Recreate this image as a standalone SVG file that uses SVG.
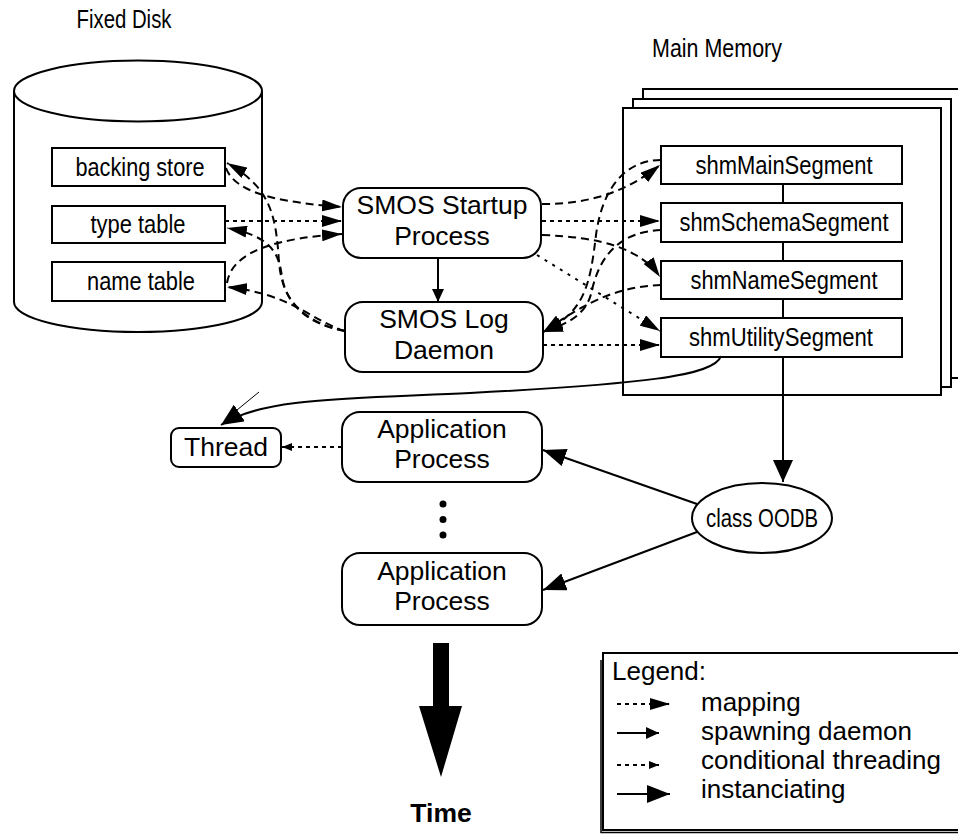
<svg xmlns="http://www.w3.org/2000/svg" width="958" height="835" viewBox="0 0 958 835">
  <style>
    .ln { fill: none; stroke: #000; stroke-width: 2; }
    .box { fill: #fff; stroke: #000; stroke-width: 2; }
    .dl { fill: none; stroke: #000; stroke-width: 2; stroke-dasharray: 8 5; }
    .ds { fill: none; stroke: #000; stroke-width: 2; stroke-dasharray: 4 4; }
    .dt { fill: none; stroke: #000; stroke-width: 2; stroke-dasharray: 3 6; }
    .t { font-family: "Liberation Sans", Arial, sans-serif; font-size: 26.5px; fill: #000; text-anchor: middle; }
    .n { font-family: "Liberation Sans Narrow", "Arial Narrow", "Liberation Sans", sans-serif; font-size: 26px; fill: #000; text-anchor: middle; }
    .lg { font-family: "Liberation Sans", Arial, sans-serif; font-size: 26px; fill: #000; }
  </style>
  <defs>
    <marker id="mapHead" markerUnits="userSpaceOnUse" markerWidth="20" markerHeight="12" refX="20" refY="6" orient="auto">
      <path d="M0,0 L20,6 L0,12 z" fill="#000"/>
    </marker>
    <marker id="bigHead" markerUnits="userSpaceOnUse" markerWidth="22" markerHeight="20" refX="22" refY="10" orient="auto">
      <path d="M0,0 L22,10 L0,20 z" fill="#000"/>
    </marker>
    <marker id="instHead" markerUnits="userSpaceOnUse" markerWidth="23" markerHeight="18" refX="23" refY="9" orient="auto">
      <path d="M0,0 L23,9 L0,18 z" fill="#000"/>
    </marker>
    <marker id="spawnHead" markerUnits="userSpaceOnUse" markerWidth="13" markerHeight="12" refX="13" refY="6" orient="auto">
      <path d="M0,0 L13,6 L0,12 z" fill="#000"/>
    </marker>
    <marker id="smallHead" markerUnits="userSpaceOnUse" markerWidth="10" markerHeight="8" refX="10" refY="4" orient="auto">
      <path d="M0,0 L10,4 L0,8 z" fill="#000"/>
    </marker>
  </defs>

  <rect width="958" height="835" fill="#fff"/>

  <!-- titles -->
  <text class="n" x="124" y="28" textLength="95" lengthAdjust="spacingAndGlyphs">Fixed Disk</text>
  <text class="n" x="717" y="57" textLength="130" lengthAdjust="spacingAndGlyphs">Main Memory</text>

  <!-- fixed disk cylinder -->
  <g id="fixed-disk">
    <path class="box" d="M14,91 L14,302 A124,30 0 0 0 262,302 L262,91"/>
    <ellipse class="box" cx="138" cy="91" rx="124" ry="30.5"/>
  </g>
  <g id="backing-store">
    <rect class="box" x="52" y="148" width="173" height="38"/>
    <text class="n" x="140" y="176" textLength="129" lengthAdjust="spacingAndGlyphs">backing store</text>
  </g>
  <g id="type-table">
    <rect class="box" x="52" y="206" width="173" height="37"/>
    <text class="n" x="138" y="233" textLength="95" lengthAdjust="spacingAndGlyphs">type table</text>
  </g>
  <g id="name-table">
    <rect class="box" x="52" y="262" width="173" height="39"/>
    <text class="n" x="141" y="290" textLength="108" lengthAdjust="spacingAndGlyphs">name table</text>
  </g>

  <!-- main memory stack -->
  <g id="main-memory">
    <rect class="box" x="643" y="89" width="330" height="289"/>
    <rect class="box" x="633" y="99" width="318" height="288"/>
    <rect class="box" x="623" y="108" width="318" height="287"/>
    <path class="ln" d="M783,184 V203 M783,242 V261 M783,299 V318"/>
  </g>
  <g id="shm-main">
    <rect class="box" x="661" y="146" width="241" height="38"/>
    <text class="n" x="784" y="174" textLength="177" lengthAdjust="spacingAndGlyphs">shmMainSegment</text>
  </g>
  <g id="shm-schema">
    <rect class="box" x="661" y="203" width="241" height="39"/>
    <text class="n" x="784" y="231" textLength="209" lengthAdjust="spacingAndGlyphs">shmSchemaSegment</text>
  </g>
  <g id="shm-name">
    <rect class="box" x="661" y="261" width="241" height="38"/>
    <text class="n" x="784" y="289" textLength="187" lengthAdjust="spacingAndGlyphs">shmNameSegment</text>
  </g>
  <g id="shm-utility">
    <rect class="box" x="661" y="318" width="241" height="39"/>
    <text class="n" x="781" y="346" textLength="184" lengthAdjust="spacingAndGlyphs">shmUtilitySegment</text>
  </g>

  <!-- processes -->
  <g id="smos-startup">
    <rect class="box" x="343" y="188" width="198" height="70" rx="18"/>
    <text class="t" x="442" y="214">SMOS Startup</text>
    <text class="t" x="442" y="245">Process</text>
  </g>
  <g id="smos-log">
    <rect class="box" x="345" y="302" width="198" height="70" rx="18"/>
    <text class="t" x="444" y="328">SMOS Log</text>
    <text class="t" x="444" y="359">Daemon</text>
  </g>
  <g id="thread">
    <rect class="box" x="171" y="428" width="110" height="39" rx="8"/>
    <text class="t" x="226" y="456">Thread</text>
  </g>
  <g id="app-1">
    <rect class="box" x="342" y="412" width="200" height="70" rx="18"/>
    <text class="t" x="442" y="438">Application</text>
    <text class="t" x="442" y="468">Process</text>
  </g>
  <g id="ellipsis">
    <circle cx="443" cy="504" r="3.5"/>
    <circle cx="443" cy="519.5" r="3.5"/>
    <circle cx="443" cy="535" r="3.5"/>
  </g>
  <g id="app-2">
    <rect class="box" x="342" y="553" width="200" height="72" rx="18"/>
    <text class="t" x="442" y="580">Application</text>
    <text class="t" x="442" y="610">Process</text>
  </g>
  <g id="class-oodb">
    <ellipse class="box" cx="762" cy="518" rx="70" ry="35"/>
    <text class="n" x="762" y="527" textLength="112" lengthAdjust="spacingAndGlyphs">class OODB</text>
  </g>

  <!-- connectors -->
  <g id="connectors">
    <!-- disk to startup (mapping) -->
    <path class="dl" d="M226,168 C236,196 290,203 342,207" marker-end="url(#mapHead)"/>
    <path class="ds" d="M225,221 L342,221" marker-end="url(#mapHead)"/>
    <path class="dl" d="M227,283 C232,250 280,238 342,234" marker-end="url(#mapHead)"/>
    <!-- log daemon back to disk -->
    <path class="dl" d="M345,331 C302,323 282,300 279,262 C276,218 272,188 227,163" marker-end="url(#mapHead)"/>
    <path class="dl" d="M345,331 C306,323 286,302 282,277 C279,252 270,236 227,228" marker-end="url(#mapHead)"/>
    <path class="dl" d="M345,331 C312,321 292,294 227,287" marker-end="url(#mapHead)"/>
    <!-- startup to segments -->
    <path class="dl" d="M542,204 C590,204 626,192 660,165" marker-end="url(#mapHead)"/>
    <path class="ds" d="M542,221 L660,221" marker-end="url(#mapHead)"/>
    <path class="dl" d="M542,235 C600,237 640,248 660,277" marker-end="url(#mapHead)"/>
    <path class="dt" d="M537,255 L660,331" marker-end="url(#mapHead)"/>
    <!-- segments to log daemon -->
    <path class="dl" d="M661,160 C624,160 602,190 596,235 C590,285 585,312 543,332" marker-end="url(#mapHead)"/>
    <path class="dl" d="M661,230 C620,232 600,255 592,290 C588,310 575,322 543,332" marker-end="url(#mapHead)"/>
    <path class="dl" d="M661,285 C620,287 592,298 543,332" marker-end="url(#mapHead)"/>
    <!-- log daemon to utility segment -->
    <path class="ds" d="M543,345 L660,345" marker-end="url(#mapHead)"/>
    <!-- spawning -->
    <path class="ln" d="M438,258 L438,302" marker-end="url(#spawnHead)"/>
    <!-- utility segment to thread -->
    <path class="ln" d="M721,356 C715,376 640,384 470,393 C340,399 262,398 221,425" marker-end="url(#bigHead)"/>
    <path d="M259,392 L237,410" stroke="#000" stroke-width="1" fill="none"/>
    <!-- conditional threading -->
    <path class="ds" d="M342,447 L282,447" marker-end="url(#smallHead)"/>
    <!-- instanciating -->
    <path class="ln" d="M783,357 L783,482" marker-end="url(#bigHead)"/>
    <path class="ln" d="M697,504 L543,450" marker-end="url(#instHead)"/>
    <path class="ln" d="M697,532 L543,590" marker-end="url(#instHead)"/>
  </g>

  <!-- time arrow -->
  <g id="time">
    <path d="M433,643 H449 V706 H462 L441,777 L419,706 H433 z" fill="#000"/>
    <text class="t" x="441" y="822" font-weight="bold">Time</text>
  </g>

  <!-- legend -->
  <g id="legend">
    <rect class="box" x="603" y="653" width="380" height="177"/>
    <path d="M601,660 V832.5 H958" stroke="#000" stroke-width="1.5" fill="none"/>
    <text class="lg" x="612" y="680">Legend:</text>
    <path class="ds" d="M617,704 L670,704" marker-end="url(#mapHead)"/>
    <text class="lg" x="701" y="711">mapping</text>
    <path class="ln" d="M617,733 L659,733" marker-end="url(#spawnHead)"/>
    <text class="lg" x="701" y="740">spawning daemon</text>
    <path class="ds" d="M617,765 L659,765" marker-end="url(#smallHead)"/>
    <text class="lg" x="701" y="769">conditional threading</text>
    <path class="ln" d="M617,794 L670,794" marker-end="url(#instHead)"/>
    <text class="lg" x="701" y="798">instanciating</text>
  </g>
</svg>
